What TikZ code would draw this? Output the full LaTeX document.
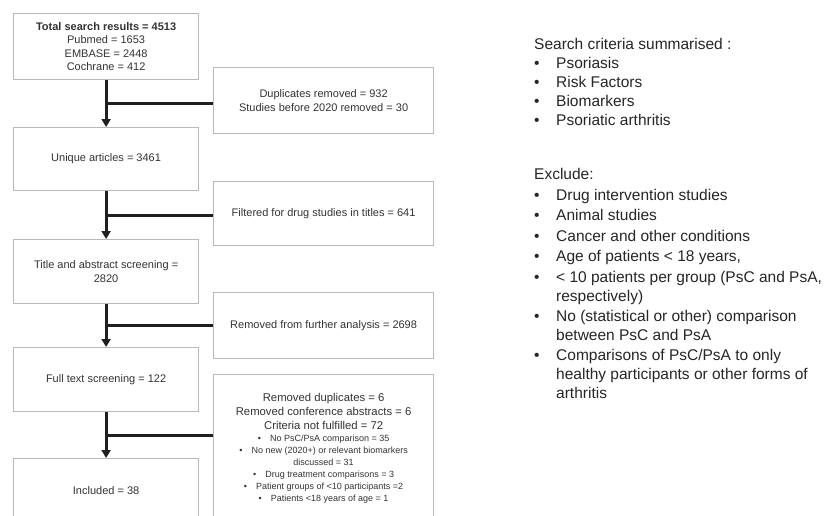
\documentclass[tikz,border=0pt]{standalone}
\usepackage{fontspec}
\setmainfont{Liberation Sans}
\usetikzlibrary{positioning,arrows.meta}
\newcommand{\itemmark}{\makebox[22pt][l]{\textbullet}}
\newcommand{\itemgap}{\hspace*{22pt}}
\newcommand{\minorfont}{\fontsize{9}{12}\selectfont}
\newcommand{\minormark}{\textbullet\hspace{9pt}}
\begin{document}
\begin{tikzpicture}[x=1pt,y=-1pt,>={Triangle[length=8pt,width=9pt]},
  box/.style={draw=gray!55, line width=1.2pt, minimum width=185pt, minimum height=64pt,
    align=center, inner sep=2pt, anchor=north west, text=black!80,
    font=\fontsize{11}{13.6}\selectfont},
  sidebox/.style={box, minimum width=220pt},
  flow/.style={line width=3.2pt, color=black!88},
  note/.style={anchor=north west, align=left, inner sep=0pt, text=black!85,
    font=\fontsize{15.5}{18.6}\selectfont}]
\clip (0,0) rectangle (826,515);
\fill[white] (0,0) rectangle (826,515);

% main flow
\node[box, minimum height=66pt] (total) at (13,13) {\textbf{Total search results = 4513}\\Pubmed = 1653\\EMBASE = 2448\\Cochrane = 412};
\node[box, minimum height=63pt] (unique) at (13,127) {Unique articles = 3461};
\node[box] (title) at (13,239) {Title and abstract screening =\\2820};
\node[box] (full) at (13,347) {Full text screening = 122};
\node[box] (incl) at (13,458) {Included = 38};

% removed records
\node[sidebox, minimum height=66pt] (dup) at (213,67) {Duplicates removed = 932\\Studies before 2020 removed = 30};
\node[sidebox] (drug) at (213,181) {Filtered for drug studies in titles = 641};
\node[sidebox, minimum height=66pt] (further) at (213,292) {Removed from further analysis = 2698};
\node[sidebox, minimum height=148pt, font=\fontsize{11.3}{14}\selectfont] (crit) at (213,374) {Removed duplicates = 6\\Removed conference abstracts = 6\\Criteria not fulfilled = 72\\[-2pt]
  {\minorfont\minormark No PsC/PsA comparison = 35}\\[-2pt]
  {\minorfont\minormark No new (2020+) or relevant biomarkers}\\[-2pt]
  {\minorfont discussed = 31}\\[-2pt]
  {\minorfont\minormark Drug treatment comparisons = 3}\\[-2pt]
  {\minorfont\minormark Patient groups of <10 participants =2}\\[-2pt]
  {\minorfont\minormark Patients <18 years of age = 1}};

\draw[flow,->] (total) -- coordinate (m1) (unique);
\draw[flow,->] (unique) -- coordinate (m2) (title);
\draw[flow,->] (title) -- coordinate (m3) (full);
\draw[flow,->] (full) -- coordinate (m4) (incl);
\draw[flow] (m1) -- (dup.west |- m1);
\draw[flow] (m2) -- (drug.west |- m2);
\draw[flow] (m3) -- (further.west |- m3);
\draw[flow] (m4) -- (crit.west |- m4);

% criteria text
\node[note] (search) at (534,38) {Search criteria summarised :\\[0.5pt]
  \itemmark Psoriasis\\[0.5pt]
  \itemmark Risk Factors\\[0.5pt]
  \itemmark Biomarkers\\[0.5pt]
  \itemmark Psoriatic arthritis};
\node[note] (exclude) at (534,168) {Exclude:\\[2pt]
  \itemmark Drug intervention studies\\[2pt]
  \itemmark Animal studies\\[2pt]
  \itemmark Cancer and other conditions\\[2pt]
  \itemmark Age of patients < 18 years,\\[2pt]
  \itemmark < 10 patients per group (PsC and PsA,\\
  \itemgap respectively)\\[2pt]
  \itemmark No (statistical or other) comparison\\
  \itemgap between PsC and PsA\\[2pt]
  \itemmark Comparisons of PsC/PsA to only\\
  \itemgap healthy participants or other forms of\\
  \itemgap arthritis};
\end{tikzpicture}
\end{document}
